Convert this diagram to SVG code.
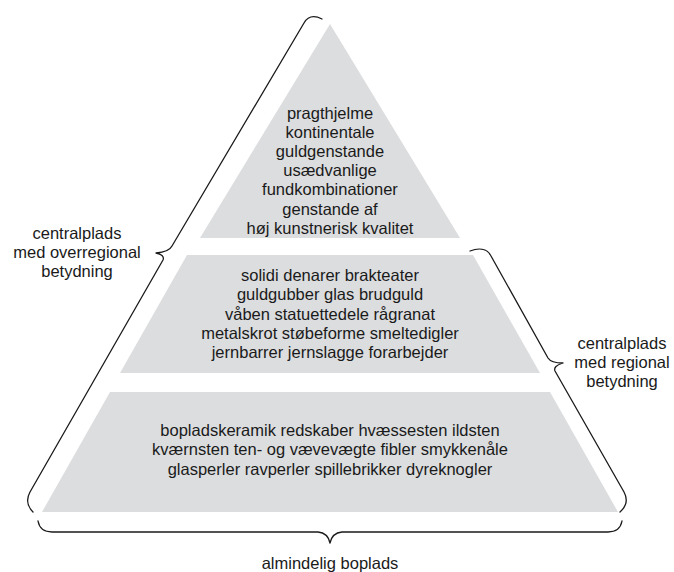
<svg xmlns="http://www.w3.org/2000/svg" width="674" height="572" viewBox="0 0 674 572">
<style>
.layer{fill:#dcdddf;stroke:none}
.brace{fill:none;stroke:#1a1a1a;stroke-width:1.3;stroke-linejoin:round;stroke-linecap:round}
text{font-family:"Liberation Sans",Arial,sans-serif;font-size:16.5px;fill:#1a1a1a;text-anchor:middle}
</style>
<rect width="674" height="572" fill="#ffffff"/>
<g id="layer-top">
<polygon class="layer" points="330,24 200,238 460,238"/>
<text x="330" y="118.5">pragthjelme</text>
<text x="330" y="137.7">kontinentale</text>
<text x="330" y="156.9">guldgenstande</text>
<text x="330" y="176.1">usædvanlige</text>
<text x="330" y="195.3">fundkombinationer</text>
<text x="330" y="214.5">genstande af</text>
<text x="330" y="233.7">høj kunstnerisk kvalitet</text>
</g>
<g id="layer-middle">
<polygon class="layer" points="187,255 473,255 540,373 120,373"/>
<text x="330" y="280.5">solidi denarer brakteater</text>
<text x="330" y="300">guldgubber glas brudguld</text>
<text x="330" y="319.5">våben statuettedele rågranat</text>
<text x="330" y="339">metalskrot støbeforme smeltedigler</text>
<text x="330" y="358">jernbarrer jernslagge forarbejder</text>
</g>
<g id="layer-bottom">
<polygon class="layer" points="110,392 550,392 618,512 42,512"/>
<text x="330" y="435.5">bopladskeramik redskaber hvæssesten ildsten</text>
<text x="330" y="455">kværnsten ten- og vævevægte fibler smykkenåle</text>
<text x="330" y="474.5">glasperler ravperler spillebrikker dyreknogler</text>
</g>
<g id="connectors">
<path class="brace" d="M322,19 C314,15 308,16 304,23 L172,246 Q169,252 156,253 Q165,255 163,260 L30,492 Q24,503 33,512"/>
<path class="brace" d="M470,251 C478,248 487,248 491,256 L548,358 Q551,363 563,363 Q553,366 555,371 L624,492 Q630,503 620,512"/>
<path class="brace" d="M38,521 Q40,532 52,532 L318,532 Q328,533 330,543 Q332,533 342,532 L608,532 Q620,532 622,521"/>
</g>
<g id="label-overregional">
<text x="77" y="238.5">centralplads</text>
<text x="77" y="257.5">med overregional</text>
<text x="77" y="276.5">betydning</text>
</g>
<g id="label-regional">
<text x="622" y="348.5">centralplads</text>
<text x="622" y="367.5">med regional</text>
<text x="622" y="386.5">betydning</text>
</g>
<g id="label-boplads">
<text x="330" y="568.5">almindelig boplads</text>
</g>
</svg>
